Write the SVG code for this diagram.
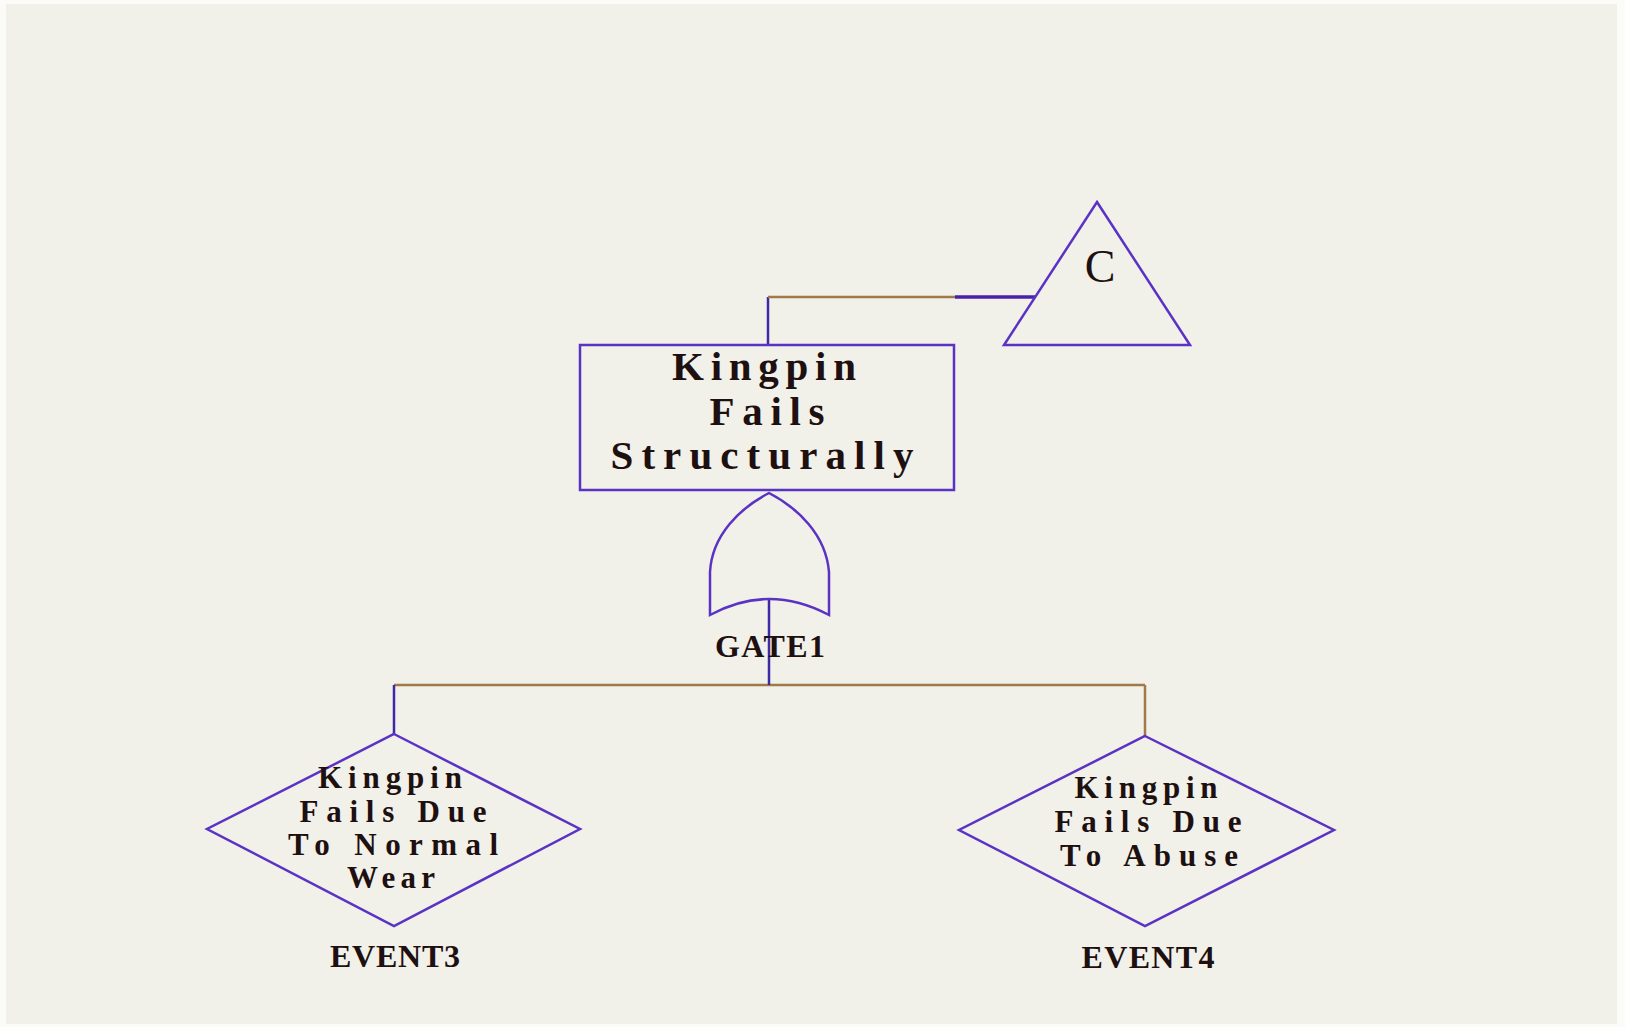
<svg xmlns="http://www.w3.org/2000/svg" width="1625" height="1027" viewBox="0 0 1625 1027">
  <style>
    .shape { fill: none; stroke: #5a32c4; stroke-width: 2.5; stroke-linejoin: miter; }
    .wire-v { fill: none; stroke: #3c2aa6; stroke-width: 2.5; }
    .wire-h { fill: none; stroke: #a07a48; stroke-width: 2.5; }
    .wire-dark { fill: none; stroke: #4a22a8; stroke-width: 3.5; }
    .lbl { font-family: "Liberation Serif", "Times New Roman", serif; font-weight: bold; fill: #1e1010; text-anchor: middle; }
    .big { font-size: 41px; }
    .mid { font-size: 31px; }
    .tag { font-size: 32px; }
    .sym { font-family: "Liberation Serif", "Times New Roman", serif; font-size: 46px; fill: #1e1010; text-anchor: middle; }
  </style>

  <!-- page background -->
  <rect x="0" y="0" width="1625" height="1027" fill="#fbfbf8"/>
  <rect x="6" y="4" width="1611" height="1020" fill="#f1f0e9"/>

  <!-- connectors -->
  <g id="connectors">
    <line class="wire-v" x1="768" y1="345" x2="768" y2="297"/>
    <line class="wire-h" x1="768" y1="297" x2="955" y2="297"/>
    <line class="wire-dark" x1="955" y1="297" x2="1035" y2="297"/>
    <line class="wire-h" x1="394" y1="685" x2="1145" y2="685"/>
    <line class="wire-v" x1="769" y1="599" x2="769" y2="685"/>
    <line class="wire-v" x1="394" y1="685" x2="394" y2="734"/>
    <line class="wire-h" x1="1145" y1="685" x2="1145" y2="736"/>
  </g>

  <!-- transfer triangle C -->
  <g id="transfer-C">
    <polygon class="shape" points="1097,202 1190,345 1004,345"/>
    <text class="sym" x="1100" y="282">C</text>
  </g>

  <!-- top event -->
  <g id="top-event">
    <rect class="shape" x="580" y="345" width="374" height="145"/>
    <text class="lbl big" x="764" y="380" textLength="184" lengthAdjust="spacing">Kingpin</text>
    <text class="lbl big" x="767" y="425" textLength="115" lengthAdjust="spacing">Fails</text>
    <text class="lbl big" x="762" y="469" textLength="303" lengthAdjust="spacing">Structurally</text>
  </g>

  <!-- OR gate -->
  <g id="gate1">
    <path class="shape" d="M710,615 L710,572 C712,535 740,508 769,493 C798,508 826,535 829,572 L829,615 Q769,583 710,615 Z"/>
    <text class="lbl tag" x="770" y="657" textLength="110" lengthAdjust="spacing">GATE1</text>
  </g>

  <!-- basic event 3 -->
  <g id="event3">
    <polygon class="shape" points="394,734 580,829 394,926 207,829"/>
    <text class="lbl mid" x="390" y="788" textLength="144" lengthAdjust="spacing">Kingpin</text>
    <text class="lbl mid" x="393" y="822" textLength="187" lengthAdjust="spacing">Fails Due</text>
    <text class="lbl mid" x="393" y="855" textLength="210" lengthAdjust="spacing">To Normal</text>
    <text class="lbl mid" x="391" y="888" textLength="88" lengthAdjust="spacing">Wear</text>
    <text class="lbl tag" x="395" y="967" textLength="130" lengthAdjust="spacing">EVENT3</text>
  </g>

  <!-- basic event 4 -->
  <g id="event4">
    <polygon class="shape" points="1145,736 1334,830 1145,926 959,830"/>
    <text class="lbl mid" x="1146" y="798" textLength="143" lengthAdjust="spacing">Kingpin</text>
    <text class="lbl mid" x="1148" y="832" textLength="187" lengthAdjust="spacing">Fails Due</text>
    <text class="lbl mid" x="1149" y="866" textLength="178" lengthAdjust="spacing">To Abuse</text>
    <text class="lbl tag" x="1148" y="968" textLength="133" lengthAdjust="spacing">EVENT4</text>
  </g>
</svg>
